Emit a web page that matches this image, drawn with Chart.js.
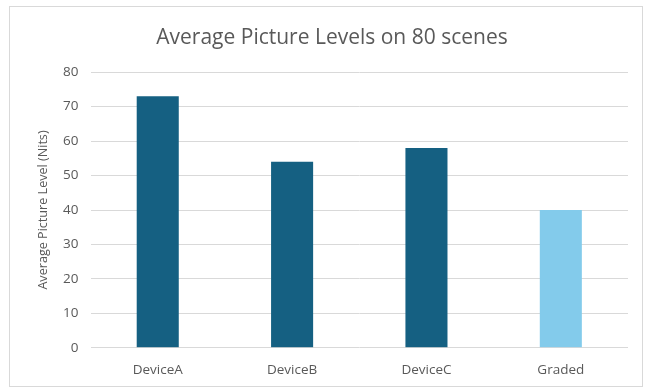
<!DOCTYPE html>
<html>
<head>
<meta charset="utf-8">
<script src="https://cdn.jsdelivr.net/npm/chart.js@4.4.0/dist/chart.umd.min.js"></script>
<style>
  html, body { margin: 0; padding: 0; background: #fff; }
  #frame {
    position: absolute; left: 9px; top: 6px; width: 634px; height: 381px;
    border: 1px solid #d9d9d9; box-sizing: border-box; background: #fff;
  }
  #frame canvas { display: block; }
</style>
</head>
<body>
<div id="frame"><canvas id="apl"></canvas></div>
<script>
// APL per display, nits
const devices = ['DeviceA', 'DeviceB', 'DeviceC', 'Graded'];
const aplNits = [73, 54, 58, 40];
const barColors = ['#156082', '#156082', '#156082', '#83cbeb'];
const yTicks = [0, 10, 20, 30, 40, 50, 60, 70, 80];

const grey = '#595959';
const font = "'Open Sans', 'Noto Sans', sans-serif";

new Chart(document.getElementById('apl'), {
    type: 'bar',
    data: {
        labels: devices,
        datasets: [{
            data: aplNits,
            backgroundColor: barColors,
            categoryPercentage: 1,
            barPercentage: 0.313,
        }],
    },
    options: {
        responsive: true,
        maintainAspectRatio: false,
        animation: false,
        layout: { padding: { left: 26, right: 14, top: 10, bottom: 2 } },
        plugins: {
            legend: { display: false },
            tooltip: { enabled: false },
            title: {
                display: true,
                text: 'Average Picture Levels on 80 scenes',
                color: grey,
                font: { family: font, size: 21, weight: 'normal' },
                padding: { top: 8, bottom: 22 },
            },
        },
        scales: {
            x: {
                grid: { display: false },
                border: { display: false },
                ticks: { color: grey, font: { family: font, size: 13.5 }, padding: 6 },
            },
            y: {
                min: 0,
                max: 80,
                afterBuildTicks: (axis) => { axis.ticks = yTicks.map(v => ({ value: v })); },
                grid: { color: '#d9d9d9', lineWidth: 1, drawTicks: false },
                border: { display: false },
                ticks: { color: grey, font: { family: font, size: 13.5 }, padding: 12 },
                title: {
                    display: true,
                    text: 'Average Picture Level (Nits)',
                    color: grey,
                    font: { family: font, size: 12.6 },
                    padding: { top: 0, bottom: 0 },
                },
            },
        },
    },
});
</script>
</body>
</html>
